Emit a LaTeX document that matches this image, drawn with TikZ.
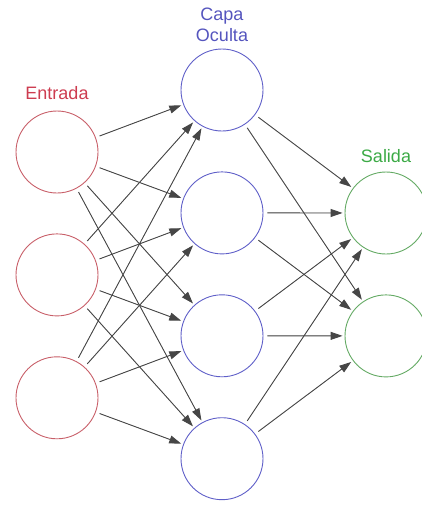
\documentclass[tikz,border=0pt]{standalone}
\usepackage{fontspec}
\setmainfont{Liberation Sans}
\usepackage{tikz}
\usetikzlibrary{arrows.meta, positioning}
\usepackage{xcolor}
\definecolor{inRed}{RGB}{205,60,80}
\definecolor{inCircle}{RGB}{200,95,105}
\definecolor{hidBlue}{RGB}{85,85,190}
\definecolor{hidCircle}{RGB}{95,95,200}
\definecolor{outGreen}{RGB}{60,170,70}
\definecolor{outCircle}{RGB}{100,170,100}
\definecolor{wireGray}{RGB}{70,70,70}

\begin{document}
\begin{tikzpicture}[
    x=1pt, y=-1pt,
    node distance=40pt,
    neuron/.style={circle, minimum size=82pt, inner sep=0pt, line width=0.9pt},
    label/.style={font=\fontsize{18}{21}\selectfont, align=center, inner sep=1pt},
    arrow/.style={-{Triangle[length=12pt, width=8pt]}, line width=0.9pt, draw=wireGray, fill=wireGray, shorten <=4pt, shorten >=2pt}
]
\useasboundingbox (0,0) rectangle (421,506);

% Input layer
\node[neuron, draw=inCircle] (in1) at (57,152) {};
\node[neuron, draw=inCircle, below=of in1] (in2) {};
\node[neuron, draw=inCircle, below=of in2] (in3) {};

% Hidden layer
\node[neuron, draw=hidCircle] (hid1) at (222,90) {};
\node[neuron, draw=hidCircle, below=of hid1] (hid2) {};
\node[neuron, draw=hidCircle, below=of hid2] (hid3) {};
\node[neuron, draw=hidCircle, below=of hid3] (hid4) {};

% Output layer
\node[neuron, draw=outCircle] (out1) at (386,213) {};
\node[neuron, draw=outCircle, below=of out1] (out2) {};

% Layer labels
\node[label, text=inRed, above=10pt of in1] (entrada) {Entrada};
\node[label, text=hidBlue, above=6pt of hid1] (oculta) {Capa\\Oculta};
\node[label, text=outGreen, above=8pt of out1] (salida) {Salida};

% Input -> hidden
\draw[arrow] (in1) -- (hid1);
\draw[arrow] (in1) -- (hid2);
\draw[arrow] (in1) -- (hid3);
\draw[arrow] (in1) -- (hid4);
\draw[arrow] (in2) -- (hid1);
\draw[arrow] (in2) -- (hid2);
\draw[arrow] (in2) -- (hid3);
\draw[arrow] (in2) -- (hid4);
\draw[arrow] (in3) -- (hid1);
\draw[arrow] (in3) -- (hid2);
\draw[arrow] (in3) -- (hid3);
\draw[arrow] (in3) -- (hid4);

% Hidden -> output
\draw[arrow] (hid1) -- (out1);
\draw[arrow] (hid1) -- (out2);
\draw[arrow] (hid2) -- (out1);
\draw[arrow] (hid2) -- (out2);
\draw[arrow] (hid3) -- (out1);
\draw[arrow] (hid3) -- (out2);
\draw[arrow] (hid4) -- (out1);
\draw[arrow] (hid4) -- (out2);

\end{tikzpicture}
\end{document}
